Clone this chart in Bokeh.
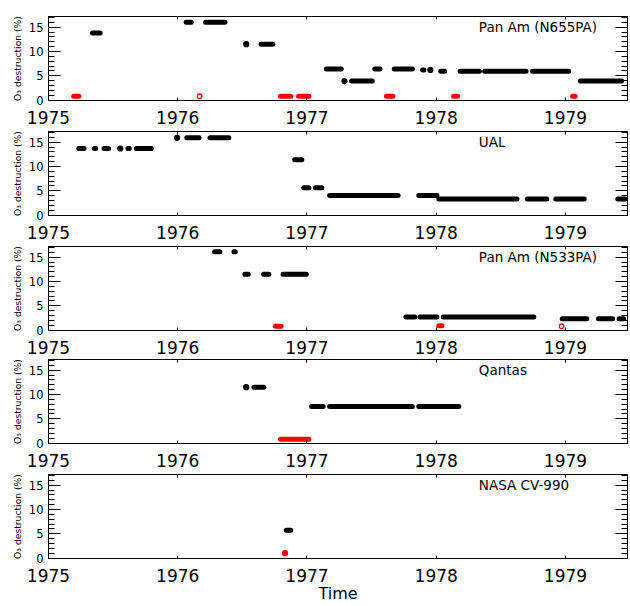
from bokeh.plotting import figure
from bokeh.layouts import column
from bokeh.models import FixedTicker, LinearAxis, Range1d, Label, ColumnDataSource
from bokeh.embed import file_html
from bokeh.resources import INLINE

# ---------------- data ----------------
YEARS = [1975, 1976, 1977, 1978, 1979]
Y_TICKS = [0, 5, 10, 15]
Y_MINOR = [1, 2, 3, 4, 6, 7, 8, 9, 11, 12, 13, 14, 16, 17]
X_START, X_END = 1975.0, 1979.48
Y_START, Y_END = -0.1, 17.2

PANEL_NAMES = ["Pan Am (N655PA)", "UAL", "Pan Am (N533PA)", "Qantas", "NASA CV-990"]

# segments: (start year, end year, O3 destruction %)
n655pa_black = [
    (1975.34, 1975.40, 13.8), (1976.065, 1976.105, 16.0), (1976.215, 1976.365, 16.0),
    (1976.645, 1976.735, 11.5), (1977.15, 1977.265, 6.4), (1977.345, 1977.505, 3.9),
    (1977.525, 1977.565, 6.4), (1977.675, 1977.815, 6.4), (1977.895, 1977.905, 6.2),
    (1978.035, 1978.065, 5.9), (1978.185, 1978.335, 5.9), (1978.375, 1978.695, 5.9),
    (1978.745, 1979.025, 5.9), (1979.115, 1979.435, 3.9),
]
n655pa_black_dots = [(1976.53, 11.5), (1977.29, 3.9), (1977.955, 6.2)]
n655pa_red = [
    (1975.195, 1975.235, 0.8), (1976.795, 1976.875, 0.8), (1976.935, 1977.015, 0.8),
    (1977.615, 1977.665, 0.8), (1978.135, 1978.165, 0.8), (1979.055, 1979.075, 0.8),
]
n655pa_red_dots = []
n655pa_red_open = [(1976.17, 0.8)]

ual_black = [
    (1975.235, 1975.275, 13.7), (1975.355, 1975.365, 13.7), (1975.43, 1975.465, 13.7),
    (1975.615, 1975.625, 13.7), (1975.68, 1975.795, 13.7), (1976.07, 1976.165, 15.9),
    (1976.25, 1976.395, 15.9), (1976.905, 1976.96, 11.4), (1976.975, 1977.015, 5.6),
    (1977.065, 1977.115, 5.6), (1977.175, 1977.705, 4.0), (1977.865, 1978.005, 4.0),
    (1978.02, 1978.625, 3.3), (1978.705, 1978.855, 3.3), (1978.925, 1979.145, 3.3),
    (1979.405, 1979.46, 3.3),
]
ual_black_dots = [(1975.555, 13.7), (1975.995, 15.9)]
ual_red = []
ual_red_dots = []
ual_red_open = []

n533pa_black = [
    (1976.285, 1976.325, 16.1), (1976.435, 1976.445, 16.1), (1976.52, 1976.545, 11.5),
    (1976.665, 1976.705, 11.5), (1976.815, 1976.995, 11.5), (1977.765, 1977.835, 2.7),
    (1977.875, 1978.005, 2.7), (1978.055, 1978.755, 2.7), (1978.975, 1979.165, 2.3),
    (1979.255, 1979.365, 2.3), (1979.415, 1979.45, 2.3),
]
n533pa_black_dots = []
n533pa_red = [(1976.755, 1976.80, 0.8), (1978.02, 1978.045, 0.9)]
n533pa_red_dots = []
n533pa_red_open = [(1978.97, 0.8)]

qantas_black = [
    (1976.59, 1976.665, 11.5), (1977.035, 1977.125, 7.5), (1977.175, 1977.815, 7.5),
    (1977.865, 1978.175, 7.5),
]
qantas_black_dots = [(1976.53, 11.5)]
qantas_red = [(1976.795, 1977.015, 0.8)]
qantas_red_dots = []
qantas_red_open = []

nasa_black = [(1976.84, 1976.875, 5.7)]
nasa_black_dots = []
nasa_red = []
nasa_red_dots = [(1976.83, 1.0)]
nasa_red_open = []

PANELS = [
    (n655pa_black, n655pa_black_dots, n655pa_red, n655pa_red_dots, n655pa_red_open),
    (ual_black, ual_black_dots, ual_red, ual_red_dots, ual_red_open),
    (n533pa_black, n533pa_black_dots, n533pa_red, n533pa_red_dots, n533pa_red_open),
    (qantas_black, qantas_black_dots, qantas_red, qantas_red_dots, qantas_red_open),
    (nasa_black, nasa_black_dots, nasa_red, nasa_red_dots, nasa_red_open),
]

# ---------------- style ----------------
FONT = "DejaVu Sans"
RED = "#ff0000"
TITLE_X = 1978.33
TITLE_Y = 16.62
TOPS = [16, 2, 2, 2, 2]
BOTTOMS = [29, 29, 27, 29, 48]
FRAME_W = 579
FRAME_H = 84


def style_x(ax, show_labels, standoff=10):
    ax.ticker = FixedTicker(ticks=YEARS)
    ax.major_tick_in = 3
    ax.major_tick_out = 0
    ax.minor_tick_line_color = None
    ax.axis_line_color = "black"
    ax.major_tick_line_color = "black"
    if show_labels:
        ax.major_label_text_font = FONT
        ax.major_label_text_font_size = "17px"
        ax.major_label_text_color = "black"
        ax.major_label_standoff = standoff
    else:
        ax.major_label_text_font_size = "1px"
        ax.major_label_text_color = None
        ax.major_label_standoff = 0


def style_y(ax, show_labels):
    ax.ticker = FixedTicker(ticks=Y_TICKS, minor_ticks=Y_MINOR)
    ax.major_tick_in = 12
    ax.major_tick_out = 0
    ax.minor_tick_in = 6
    ax.minor_tick_out = 0
    ax.axis_line_color = "black"
    ax.major_tick_line_color = "black"
    ax.minor_tick_line_color = "black"
    if show_labels:
        ax.major_label_text_font = FONT
        ax.major_label_text_font_size = "11.5px"
        ax.major_label_text_color = "black"
        ax.major_label_standoff = 5
        ax.axis_label = "O\u2083 destruction (%)"
        ax.axis_label_text_font = FONT
        ax.axis_label_text_font_size = "9.2px"
        ax.axis_label_text_font_style = "normal"
        ax.axis_label_text_color = "black"
        ax.axis_label_standoff = 3
    else:
        ax.major_label_text_font_size = "1px"
        ax.major_label_text_color = None
        ax.major_label_standoff = 0


def add_segments(p, segs, color):
    if not segs:
        return
    src = ColumnDataSource(dict(
        x0=[s[0] for s in segs], x1=[s[1] for s in segs], y=[s[2] for s in segs]))
    p.segment(x0="x0", y0="y", x1="x1", y1="y", source=src,
              line_color=color, line_width=5, line_cap="round")


def add_dots(p, dots, color, fill, size):
    if not dots:
        return
    src = ColumnDataSource(dict(x=[d[0] for d in dots], y=[d[1] for d in dots]))
    p.scatter(x="x", y="y", source=src, marker="circle", size=size,
              line_color=color, fill_color=fill, line_width=1.2)


figs = []
for i, (name, data) in enumerate(zip(PANEL_NAMES, PANELS)):
    last = i == len(PANELS) - 1
    p = figure(frame_width=FRAME_W, frame_height=FRAME_H,
               x_range=Range1d(X_START, X_END), y_range=Range1d(Y_START, Y_END),
               output_backend="svg", toolbar_location=None,
               min_border_left=48, min_border_right=3,
               min_border_top=TOPS[i], min_border_bottom=BOTTOMS[i])
    p.xgrid.visible = False
    p.ygrid.visible = False
    p.outline_line_color = "black"
    p.background_fill_color = "white"
    p.border_fill_color = "white"

    bottom_ax = p.below[0]
    left_ax = p.left[0]
    style_x(bottom_ax, True, 10)
    style_y(left_ax, True)
    top_ax = LinearAxis()
    style_x(top_ax, False)
    p.add_layout(top_ax, "above")
    right_ax = LinearAxis()
    style_y(right_ax, False)
    p.add_layout(right_ax, "right")

    if last:
        bottom_ax.axis_label = "Time"
        bottom_ax.axis_label_text_font = FONT
        bottom_ax.axis_label_text_font_size = "16px"
        bottom_ax.axis_label_text_font_style = "normal"
        bottom_ax.axis_label_text_color = "black"
        bottom_ax.axis_label_standoff = -1

    black, black_dots, red, red_dots, red_open = data
    add_segments(p, black, "black")
    add_dots(p, black_dots, "black", "black", 5)
    add_segments(p, red, RED)
    add_dots(p, red_dots, RED, RED, 5)
    add_dots(p, red_open, RED, "white", 4.5)

    p.add_layout(Label(x=TITLE_X, y=TITLE_Y, text=name, text_font=FONT,
                       text_font_size="13.5px", text_baseline="top",
                       text_align="left", text_color="black"))
    figs.append(p)

layout = column(*figs, spacing=0)
open("out.html", "w").write(file_html(layout, INLINE))
